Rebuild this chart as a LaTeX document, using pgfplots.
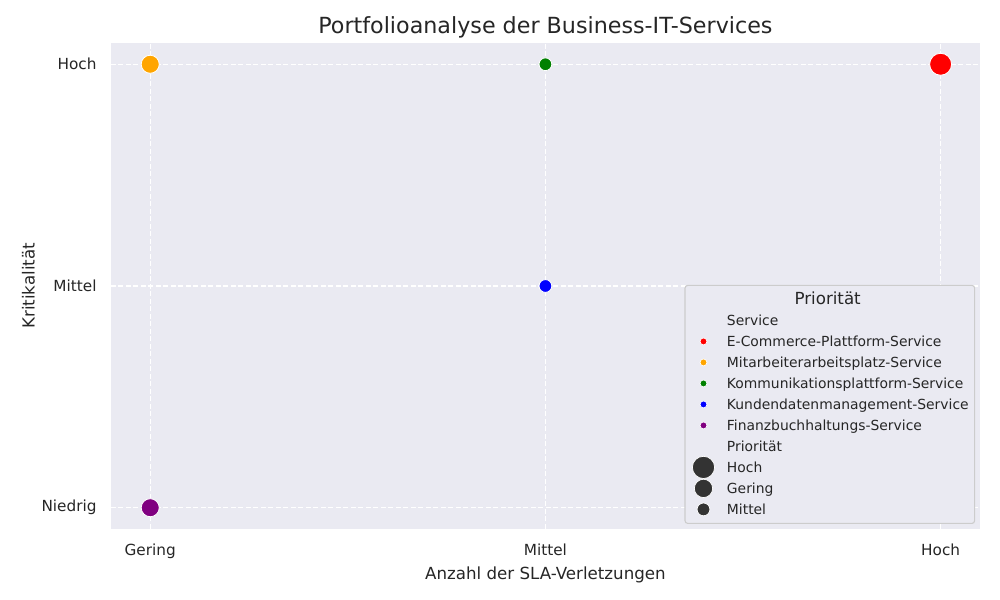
\documentclass[border=0pt]{standalone}
\usepackage{fontspec}
\setmainfont{DejaVu Sans}
\usepackage{pgfplots}
\pgfplotsset{compat=1.18}
\definecolor{bg}{HTML}{EAEAF2}
\definecolor{txt}{HTML}{262626}
\definecolor{mkgray}{HTML}{333333}
\definecolor{legedge}{HTML}{CCCCCC}
\definecolor{cRed}{HTML}{FF0000}
\definecolor{cOrange}{HTML}{FFA500}
\definecolor{cGreen}{HTML}{008000}
\definecolor{cBlue}{HTML}{0000FF}
\definecolor{cPurple}{HTML}{800080}
\pgfplotsset{
  legdot/.style 2 args={legend image code/.code={%
    \begin{pgfinterruptboundingbox}
    \path plot[mark=*, mark size=#1, mark options={fill=#2, draw=white, line width=0.5bp}] coordinates {(0bp,0bp)};
    \end{pgfinterruptboundingbox}
    \path[draw=none, fill=none] (-9bp,-3bp) (9bp,3bp);}},
}
\begin{document}
\begin{tikzpicture}
\path[use as bounding box, fill=white] (0,0) rectangle (720bp,432bp);
\begin{axis}[
  at={(79.7bp,51.12bp)}, anchor=south west,
  scale only axis, width=626bp, height=350.1bp,
  xmin=-0.1, xmax=2.1, ymin=-0.096, ymax=2.097,
  axis background/.style={fill=bg},
  axis line style={draw=none},
  major tick length=0pt,
  xtick={0,1,2}, xticklabels={Gering,Mittel,Hoch},
  ytick={0,1,2}, yticklabels={Niedrig,Mittel,Hoch},
  grid=major,
  major grid style={white, line width=0.75bp, dash pattern=on 3.6bp off 1.8bp},
  xticklabel style={anchor=base, inner sep=0pt, yshift=-19.4bp, font=\fontsize{11bp}{13bp}\selectfont, text=txt},
  yticklabel style={anchor=east, inner sep=0pt, xshift=-10bp, font=\fontsize{11bp}{13bp}\selectfont, text=txt},
  every axis title shift=0pt,
  title={Portfolioanalyse der Business-IT-Services},
  title style={at={(axis description cs:0.5,1.0185)}, anchor=base, yshift=0pt, inner sep=0pt, font=\fontsize{16bp}{19bp}\selectfont, text=txt},
  xlabel={Anzahl der SLA-Verletzungen},
  xlabel style={at={(axis description cs:0.5,-0.1031)}, anchor=base, inner sep=0pt, font=\fontsize{12bp}{14bp}\selectfont, text=txt},
  ylabel={Kritikalität},
  ylabel style={at={(axis description cs:-0.0874,0.5)}, anchor=base, rotate=0, inner sep=0pt, font=\fontsize{12bp}{14bp}\selectfont, text=txt},
  legend cell align=left,
  legend style={at={(0.9943,0.0103)}, anchor=south east, fill=bg, draw=legedge,
    rounded corners=2bp, line width=0.8bp, inner xsep=4.3bp, inner ysep=5.6bp,
    column sep=7.9bp, row sep=6.12bp,
    nodes={inner sep=0pt, text height=8bp, text depth=1bp, text=txt},
    font=\fontsize{10bp}{12bp}\selectfont, cells={anchor=west}},
]
% E-Commerce-Plattform-Service: x=Hoch, y=Hoch, Prioritaet Hoch
\addplot[only marks, mark=*, mark size=7.9bp, mark options={fill=cRed, draw=white, line width=0.6bp}, forget plot] coordinates {(2,2)};
% Mitarbeiterarbeitsplatz-Service: x=Gering, y=Hoch, Gering
\addplot[only marks, mark=*, mark size=6.5bp, mark options={fill=cOrange, draw=white, line width=0.6bp}, forget plot] coordinates {(0,2)};
% Kommunikationsplattform-Service: x=Mittel, y=Hoch, Mittel
\addplot[only marks, mark=*, mark size=4.6bp, mark options={fill=cGreen, draw=white, line width=0.6bp}, forget plot] coordinates {(1,2)};
% Kundendatenmanagement-Service: x=Mittel, y=Mittel, Mittel
\addplot[only marks, mark=*, mark size=4.6bp, mark options={fill=cBlue, draw=white, line width=0.6bp}, forget plot] coordinates {(1,1)};
% Finanzbuchhaltungs-Service: x=Gering, y=Niedrig, Gering
\addplot[only marks, mark=*, mark size=6.5bp, mark options={fill=cPurple, draw=white, line width=0.6bp}, forget plot] coordinates {(0,0)};

\addlegendimage{empty legend}
\addlegendentry{\makebox[0pt][l]{\hspace*{72bp}\makebox[0pt][c]{\fontsize{12bp}{14bp}\selectfont Priorität}}}
\addlegendimage{empty legend}
\addlegendentry{Service}
\addlegendimage{legdot={2.5bp}{cRed}}
\addlegendentry{E-Commerce-Plattform-Service}
\addlegendimage{legdot={2.5bp}{cOrange}}
\addlegendentry{Mitarbeiterarbeitsplatz-Service}
\addlegendimage{legdot={2.5bp}{cGreen}}
\addlegendentry{Kommunikationsplattform-Service}
\addlegendimage{legdot={2.5bp}{cBlue}}
\addlegendentry{Kundendatenmanagement-Service}
\addlegendimage{legdot={2.5bp}{cPurple}}
\addlegendentry{Finanzbuchhaltungs-Service}
\addlegendimage{empty legend}
\addlegendentry{Priorität}
\addlegendimage{legdot={8.0bp}{mkgray}}
\addlegendentry{Hoch}
\addlegendimage{legdot={6.6bp}{mkgray}}
\addlegendentry{Gering}
\addlegendimage{legdot={4.6bp}{mkgray}}
\addlegendentry{Mittel}
\end{axis}
\end{tikzpicture}
\end{document}
